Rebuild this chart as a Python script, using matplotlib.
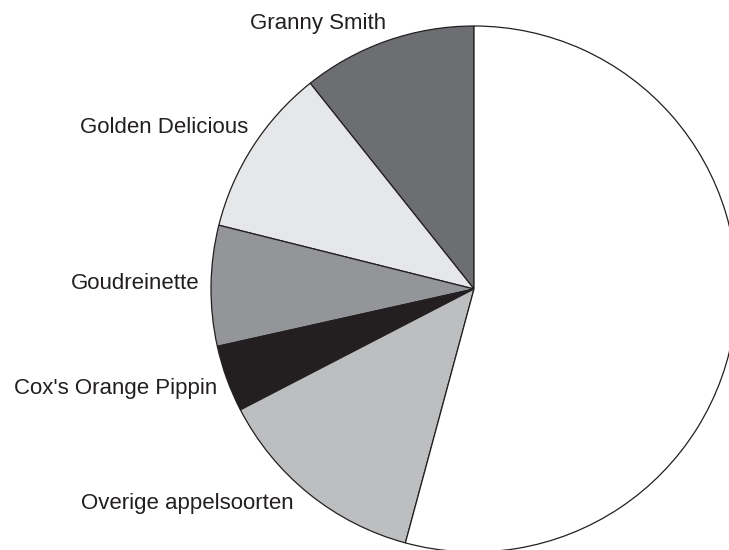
import matplotlib.pyplot as plt

# aandeel per appelras (geschat uit de figuur, in %)
rassen = ["Granny Smith", "Golden Delicious", "Goudreinette",
          "Cox's Orange Pippin", "Overige appelsoorten", ""]
aandeel = [10.7, 10.4, 7.4, 4.1, 13.2, 54.2]
kleuren = ["#6d6e71", "#e6e7e8", "#939598", "#231f20", "#bcbec0", "#ffffff"]

W, H = 729, 550
fig = plt.figure(figsize=(W / 100, H / 100), dpi=100)
ax = fig.add_axes([0, 0, 1, 1])

ax.pie(aandeel, colors=kleuren, startangle=90, counterclock=True,
       center=(474, H - 289), radius=263,
       wedgeprops=dict(edgecolor="#231f20", linewidth=0.9))

ax.set_xlim(0, W)
ax.set_ylim(0, H)
ax.set_aspect("equal")
ax.axis("off")

# labelposities in beeldpixels (x, basislijn vanaf boven), uitlijning
label_pos = [(318, 29, "center"), (248, 133, "right"), (200, 289, "right"),
             (217, 394, "right"), (294, 509, "right")]
for naam, (x, y, ha) in zip(rassen, label_pos):
    ax.text(x, H - y, naam, ha=ha, va="baseline", fontsize=16,
            family="Liberation Sans", color="#231f20")

fig.savefig("out.png", dpi=100)
